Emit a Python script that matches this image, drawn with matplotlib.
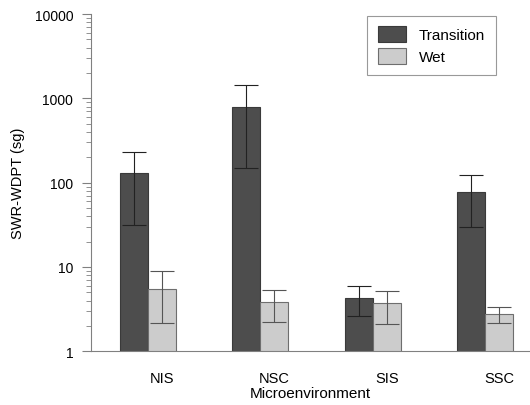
import numpy as np
import matplotlib.pyplot as plt
from matplotlib.ticker import LogLocator, NullFormatter, FixedLocator, FixedFormatter

plt.rcParams['font.family'] = ['Liberation Sans', 'DejaVu Sans']

# 数据
sites = ['NIS', 'NSC', 'SIS', 'SSC']
trans_mean = [130, 797, 4.3, 78]
trans_hi = [229, 1455, 6.0, 124]
trans_lo = [31.5, 148, 2.6, 30]
wet_mean = [5.5, 3.8, 3.7, 2.75]
wet_hi = [8.9, 5.4, 5.25, 3.33]
wet_lo = [2.15, 2.2, 2.1, 2.17]

if __name__ == '__main__':
    fig = plt.figure(figsize=(5.3, 4.06), dpi=100)
    ax = fig.add_axes([0.1711, 0.1323, 0.8289, 0.8307])

    x = np.arange(len(sites))
    w = 0.25
    t_err = [np.array(trans_mean) - np.array(trans_lo), np.array(trans_hi) - np.array(trans_mean)]
    v_err = [np.array(wet_mean) - np.array(wet_lo), np.array(wet_hi) - np.array(wet_mean)]

    ax.bar(x - w / 2, trans_mean, w, color='#4d4d4d', edgecolor='#3a3a3a', linewidth=0.8,
           label='Transition', yerr=t_err,
           error_kw=dict(ecolor='#222222', elinewidth=0.8, capsize=8.5, capthick=0.8))
    ax.bar(x + w / 2, wet_mean, w, color='#cccccc', edgecolor='#6e6e6e', linewidth=0.8,
           label='Wet', yerr=v_err,
           error_kw=dict(ecolor='#555555', elinewidth=0.8, capsize=8.5, capthick=0.8))

    ax.set_yscale('log')
    ax.set_ylim(1, 10000)
    ax.set_xlim(-0.507, 3.398)

    ax.yaxis.set_major_locator(FixedLocator([1, 10, 100, 1000, 10000]))
    ax.yaxis.set_major_formatter(FixedFormatter(['1', '10', '100', '1000', '10000']))
    ax.yaxis.set_minor_locator(LogLocator(base=10, subs=np.arange(2, 10)))
    ax.yaxis.set_minor_formatter(NullFormatter())

    ax.set_xticks(x + w / 2)
    ax.set_xticklabels(sites)
    ax.tick_params(axis='x', length=0, pad=14, labelsize=10.5)
    ax.tick_params(axis='y', which='major', length=6.5, color='#808080', labelsize=10, pad=6)
    ax.tick_params(axis='y', which='minor', length=3.5, color='#808080')

    for s in ['top', 'right']:
        ax.spines[s].set_visible(False)
    for s in ['left', 'bottom']:
        ax.spines[s].set_color('#808080')
        ax.spines[s].set_linewidth(0.8)

    ax.set_ylabel('SWR-WDPT (sg)', fontsize=10.5, labelpad=7)
    ax.set_xlabel('Microenvironment', fontsize=11, labelpad=1)

    leg = ax.legend(loc='upper left', bbox_to_anchor=(0.6296, 0.995), fancybox=False,
                    edgecolor='#808080', fontsize=11, handlelength=1.83, handleheight=1.18,
                    borderpad=0.7, labelspacing=0.4, handletextpad=0.85, borderaxespad=0)
    leg.get_frame().set_linewidth(0.8)

    plt.savefig('out.png', dpi=100)
